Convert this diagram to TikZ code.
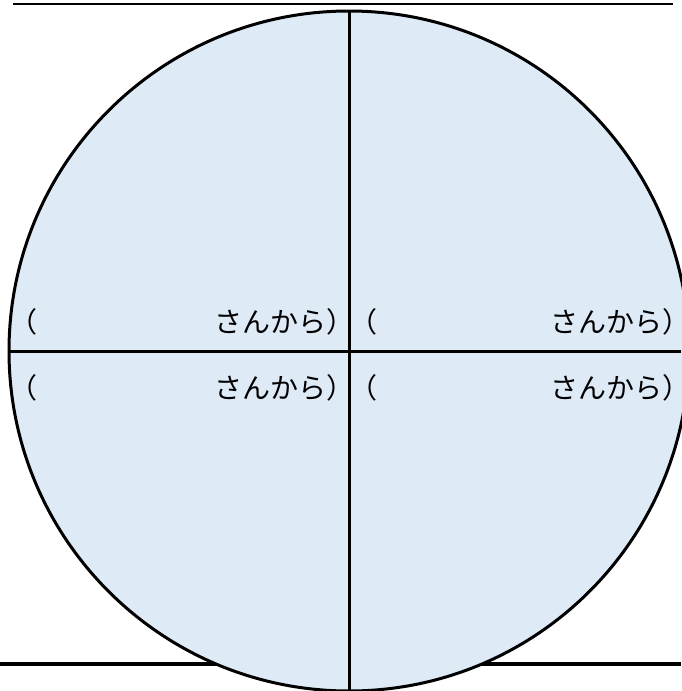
\documentclass[tikz,border=0pt]{standalone}
\usepackage{fontspec}
\usepackage{tikz}
\usetikzlibrary{positioning,calc}
\newfontfamily\jpfont{Noto Sans CJK JP}
\definecolor{discFill}{HTML}{DEEAF6}
\newcommand{\closeparen}{\makebox[0.5em][l]{）}}
\tikzset{
  disc/.style={draw, circle, line width=3pt, fill=discFill,
    minimum size=680pt, inner sep=0pt, outer sep=0pt},
  divider/.style={line width=3pt, black},
  rulebar/.style={line width=4pt, black},
  toprule/.style={line width=2.5pt, black},
  lbl/.style={font=\jpfont\fontsize{28}{28}\selectfont, inner sep=0pt,
    anchor=base west}
}
\begin{document}
\begin{tikzpicture}[x=1pt, y=-1pt]
  \useasboundingbox (0,0) rectangle (681,691);
  % rules above and below
  \coordinate (botL) at (0,664);
  \coordinate (botR) at (681,664);
  \coordinate (topL) at (13,4);
  \coordinate (topR) at (673,4);
  \draw[rulebar] (botL) -- (botR);
  % the disc and its quarters
  \node[disc] (pie) at (349,351) {};
  \coordinate (edgeR) at (681,351);
  \draw[divider] (pie.north) -- (pie.south);
  \draw[divider] (pie.west) -- (edgeR);
  \draw[toprule] (topL) -- (topR);
  % labels
  \node[lbl] (ulTxt) at (9,332) {（\hspace{177pt}さんから\closeparen};
  \node[lbl] (llTxt) at (9,398) {（\hspace{177pt}さんから\closeparen};
  \node[lbl] (urTxt) at (349,332) {（\hspace{173pt}さんから\closeparen};
  \node[lbl] (lrTxt) at (349,398) {（\hspace{173pt}さんから\closeparen};
\end{tikzpicture}
\end{document}
